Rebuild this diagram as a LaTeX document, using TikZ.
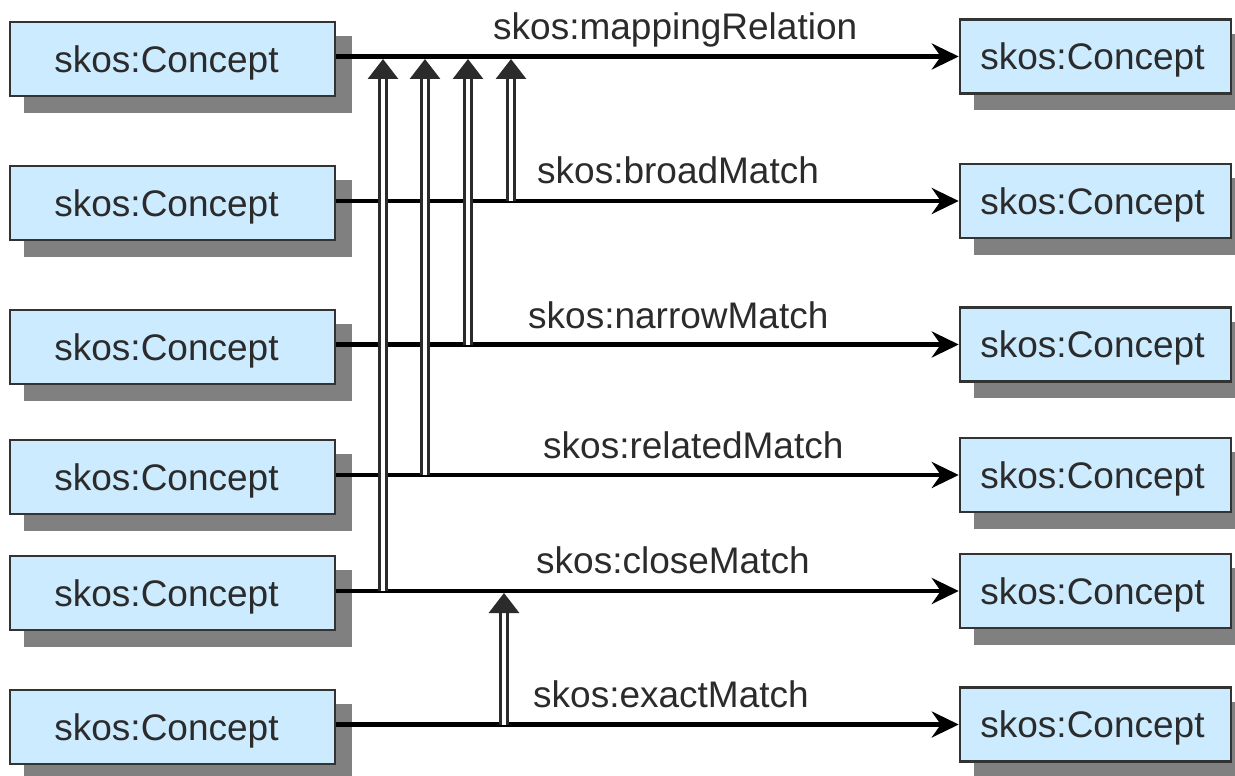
\documentclass[tikz,border=0pt]{standalone}
\usepackage{fontspec}
\setmainfont{Liberation Sans}
\usetikzlibrary{arrows.meta,shadows}
\definecolor{boxfill}{RGB}{204,235,255}
\definecolor{boxline}{RGB}{51,51,51}
\definecolor{shadowgray}{RGB}{128,128,128}
\definecolor{textgray}{RGB}{43,43,43}
\definecolor{subgray}{RGB}{43,43,43}
\tikzset{
  concept/.style={draw=boxline, line width=2.5pt, fill=boxfill, rectangle,
    minimum height=74pt, inner sep=0pt, text=textgray, text depth=0pt,
    font=\fontsize{37pt}{44pt}\selectfont,
    general shadow={fill=shadowgray, draw=shadowgray, line width=2.5pt,
      shadow xshift=15.5pt, shadow yshift=-15.5pt}},
  leftbox/.style={concept, minimum width=325pt,
    execute at begin node={\hspace*{-12pt}}},
  rightbox/.style={concept, minimum width=271pt,
    execute at begin node={\hspace*{-6pt}}},
  rel/.style={draw=black, line width=4.3pt,
    -{Stealth[length=27pt, width=26pt, inset=9pt]}},
  sub/.style={draw=subgray, line width=3.2pt, double=white, double distance=3.3pt,
    -{Triangle[length=20pt, width=30pt]}},
  lab/.style={anchor=base west, inner sep=0pt, text=textgray,
    font=\fontsize{37pt}{44pt}\selectfont}
}
\begin{document}
\begin{tikzpicture}[x=1pt,y=-1pt]
\useasboundingbox (0,0) rectangle (1235,776);
% left concepts
\node[leftbox] (L1) at (172.5,59)  {skos:Concept};
\node[leftbox] (L2) at (172.5,203) {skos:Concept};
\node[leftbox] (L3) at (172.5,347) {skos:Concept};
\node[leftbox] (L4) at (172.5,477) {skos:Concept};
\node[leftbox] (L5) at (172.5,593) {skos:Concept};
\node[leftbox] (L6) at (172.5,727) {skos:Concept};
% right concepts
\node[rightbox] (R1) at (1095.5,56.5) {skos:Concept};
\node[rightbox] (R2) at (1095.5,201)  {skos:Concept};
\node[rightbox] (R3) at (1095.5,344.5) {skos:Concept};
\node[rightbox] (R4) at (1095.5,475)  {skos:Concept};
\node[rightbox] (R5) at (1095.5,591)  {skos:Concept};
\node[rightbox] (R6) at (1095.5,724.5) {skos:Concept};
% relations
\foreach \i in {1,...,6}{
  \draw[rel] (L\i.east |- R\i.west) -- (R\i.west);
}
% labels
\node[lab] (t1) at (493,40)  {skos:mappingRelation};
\node[lab] (t2) at (537,183) {skos:broadMatch};
\node[lab] (t3) at (528,328) {skos:narrowMatch};
\node[lab] (t4) at (543,458) {skos:relatedMatch};
\node[lab] (t5) at (536,573) {skos:closeMatch};
\node[lab] (t6) at (533,707) {skos:exactMatch};
% sub-property arrows
\coordinate (a5) at (383,591);   \coordinate (h5) at (383,59);
\coordinate (a4) at (425,475);   \coordinate (h4) at (425,59);
\coordinate (a3) at (468,344.5); \coordinate (h3) at (468,59);
\coordinate (a2) at (511,201);   \coordinate (h2) at (511,59);
\coordinate (a6) at (504,724.5); \coordinate (h6) at (504,593);
\draw[sub] (a5) -- (h5);
\draw[sub] (a4) -- (h4);
\draw[sub] (a3) -- (h3);
\draw[sub] (a2) -- (h2);
\draw[sub] (a6) -- (h6);
\end{tikzpicture}
\end{document}
